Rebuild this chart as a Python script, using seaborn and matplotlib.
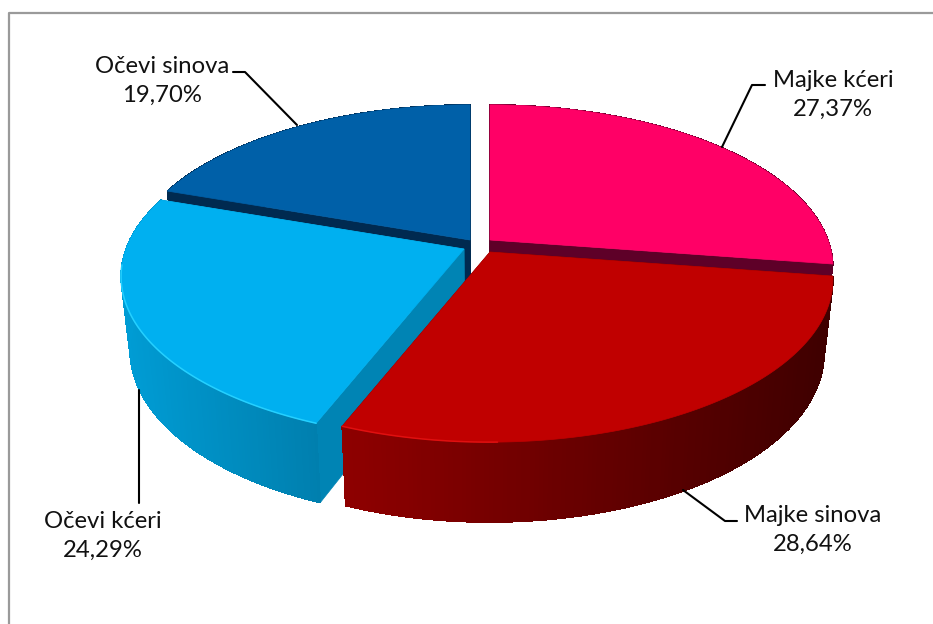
import numpy as np
import matplotlib
matplotlib.use("Agg")
import matplotlib.pyplot as plt
from matplotlib.patches import Polygon
import seaborn as sns

# data, clockwise from 12 o'clock
labels = ["Majke kćeri", "Majke sinova", "Očevi kćeri", "Očevi sinova"]
values = [27.37, 28.64, 24.29, 19.70]
value_text = ["27,37%", "28,64%", "24,29%", "19,70%"]

top_colors = ["#FF0066", "#C00000", "#00B0F0", "#0060A8"]
cut_colors = ["#5E0028", "#5A0000", "#0084B4", "#002A50"]
side_left = ["#5E0028", "#8E0000", "#009CD4", "#002A50"]
side_right = ["#5E0028", "#3E0000", "#007FAE", "#002A50"]
rim_colors = [None, "#E01010", "#25D0FF", None]
rim_span = [None, (0.78, 1.0), (0.0, 0.72), None]
offsets = [(10, -5), (10, 7), (-16, 4), (-10, -5)]
draw_order = [3, 0, 2, 1]

CX, CY = 480, 245
A, H, P = 338, 158, 0.169
DEPTH, DEPTH_VAR, SHRINK = 72, 8, 0.975

sns.set_theme(style="white")
plt.rcParams["font.family"] = ["Lato", "DejaVu Sans"]
fig = plt.figure(figsize=(9.33, 6.24), dpi=100)
ax = fig.add_axes([0, 0, 1, 1])
ax.set_xlim(0, 933)
ax.set_ylim(624, 0)
ax.axis("off")
ax.plot([9, 9, 933], [624, 13, 13], color="#9A9A9A", lw=1.6, zorder=0)


def project(ang):
    X, Y = np.sin(ang), np.cos(ang)
    s = 1 + P * Y
    return CX + A * X / s, CY - H * Y / s, DEPTH - DEPTH_VAR * Y


cum = np.concatenate([[0], np.cumsum(values)]) / np.sum(values) * 2 * np.pi
z = 1
for i in draw_order:
    dx, dy = offsets[i]
    apex = np.array([CX + dx, CY + dy])
    ang = np.linspace(cum[i], cum[i + 1], 160)
    px, py, dp = project(ang)
    px, py = px + dx, py + dy
    bx = CX + (px - CX) * SHRINK
    by = py + dp
    # cut faces
    for k in (0, -1):
        ax.add_patch(Polygon([apex, (px[k], py[k]), (bx[k], by[k]),
                              (CX + (apex[0] - CX) * SHRINK, apex[1] + DEPTH)],
                             fc=cut_colors[i], ec=cut_colors[i], lw=0.5, zorder=z))
    # outer wall, shaded from left to right
    pal = sns.blend_palette([side_left[i], side_right[i]], 101)
    lo, hi = px.min(), px.max()
    for j in range(len(ang) - 1):
        c = pal[int(100 * ((px[j] + px[j + 1]) / 2 - lo) / max(hi - lo, 1))]
        ax.add_patch(Polygon([(px[j], py[j]), (px[j + 1], py[j + 1]),
                              (bx[j + 1], by[j + 1]), (bx[j], by[j])],
                             fc=c, ec=c, lw=0.4, antialiased=False, zorder=z + 1))
    # top face
    ax.add_patch(Polygon(np.vstack([apex, np.column_stack([px, py])]),
                         fc=top_colors[i], ec=top_colors[i], lw=0.5, zorder=z + 2))
    if rim_colors[i]:
        a, b = rim_span[i]
        n = len(ang)
        ax.plot(px[int(a * n):int(b * n)], py[int(a * n):int(b * n)],
                color=rim_colors[i], lw=1.1, zorder=z + 2)
    z += 3

text_pos = {0: (833, 95), 1: (813, 530), 2: (103, 536), 3: (162, 81)}
for i, (x, y) in text_pos.items():
    ax.text(x, y, f"{labels[i]}\n{value_text[i]}", ha="center", va="center",
            fontsize=17.2, color="#111111", linespacing=1.42, zorder=50)

leaders = [
    ([765, 752, 722], [85, 85, 147]),
    ([737, 725, 683], [521, 521, 490]),
    ([139, 139], [390, 503]),
    ([233, 245, 297], [72, 72, 125]),
]
for lx, ly in leaders:
    ax.plot(lx, ly, color="black", lw=1.5, zorder=49)

fig.savefig("out.png", dpi=100, facecolor="white")
